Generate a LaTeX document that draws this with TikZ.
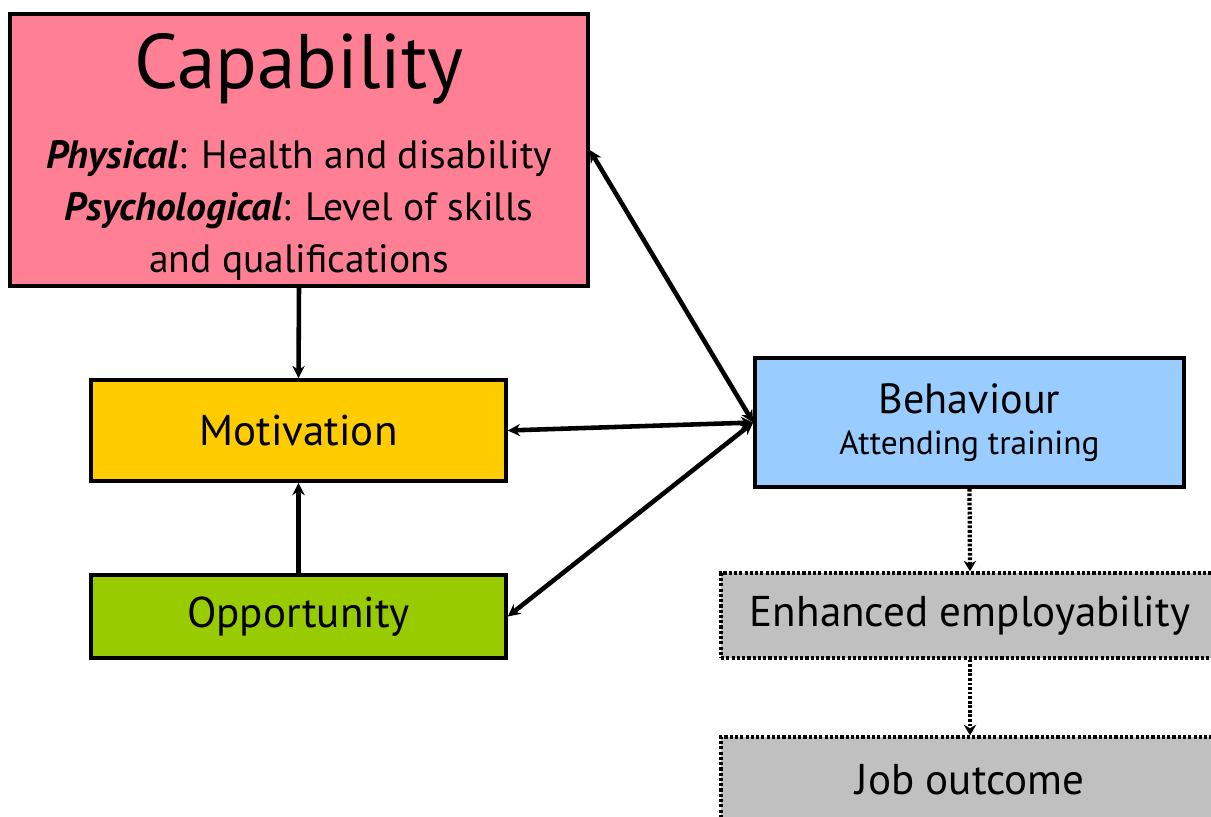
\documentclass[tikz,border=0pt]{standalone}
\usepackage{fontspec}
\setmainfont{PT Sans}
\usetikzlibrary{arrows.meta}
\definecolor{capcol}{RGB}{255,128,148}
\definecolor{motcol}{RGB}{255,204,0}
\definecolor{oppcol}{RGB}{153,204,0}
\definecolor{behcol}{RGB}{153,204,255}
\definecolor{outcol}{RGB}{192,192,192}
\begin{document}
\begin{tikzpicture}[x=0.02cm, y=-0.02cm,
  box/.style={draw, line width=2.1pt, inner sep=0pt, align=center, font=\fontsize{24.5}{28}\selectfont},
  outbox/.style={box, line width=1.9pt, dash pattern=on 1.8pt off 1.2pt},
  link/.style={line width=2.6pt, -{Stealth[length=7pt,width=7pt]}},
  twolink/.style={line width=2.6pt, {Stealth[length=7pt,width=7pt]}-{Stealth[length=7pt,width=7pt]}},
  dotlink/.style={line width=2.4pt, dash pattern=on 1.6pt off 1pt, -{Stealth[length=6pt,width=7pt]}}]
\useasboundingbox (0,0) rectangle (1211,816);

\node[box, fill=capcol, minimum width=11.56cm, minimum height=5.44cm, font=\fontsize{22.5}{29.6}\selectfont](cap)at(299,150){%
  {\fontsize{44}{48}\selectfont\rule{0pt}{39pt}Capability}\\[16pt]
  \textbf{\textit{Physical}}: Health and disability\\
  \textbf{\textit{Psychological}}: Level of skills\\
  and qualifications};
\node[box, fill=motcol, minimum width=8.3cm, minimum height=2.02cm](mot)at(298.5,430.5){Motivation};
\node[box, fill=oppcol, minimum width=8.3cm, minimum height=1.66cm](opp)at(298.5,616.5){Opportunity};
\node[box, fill=behcol, minimum width=8.58cm, minimum height=2.58cm, font=\fontsize{19}{23}\selectfont](beh)at(969.5,422.5){%
  {\fontsize{24}{28}\selectfont Behaviour}\\
  Attending training};
\node[outbox, fill=outcol, minimum width=9.96cm, minimum height=1.7cm](enh)at(970,615.5){Enhanced employability};
\node[outbox, fill=outcol, minimum width=9.96cm, minimum height=1.72cm](job)at(970,780){Job outcome};

% connectors
\draw[link](cap.south)--(mot.north);
\draw[link](opp.north)--(mot.south);
\draw[twolink](cap.east)--(beh.west);
\draw[twolink](mot.east)--(beh.west);
\draw[twolink](opp.east)--(beh.west);
\draw[dotlink](beh.south)--(enh.north);
\draw[dotlink](enh.south)--(job.north);
\end{tikzpicture}
\end{document}
